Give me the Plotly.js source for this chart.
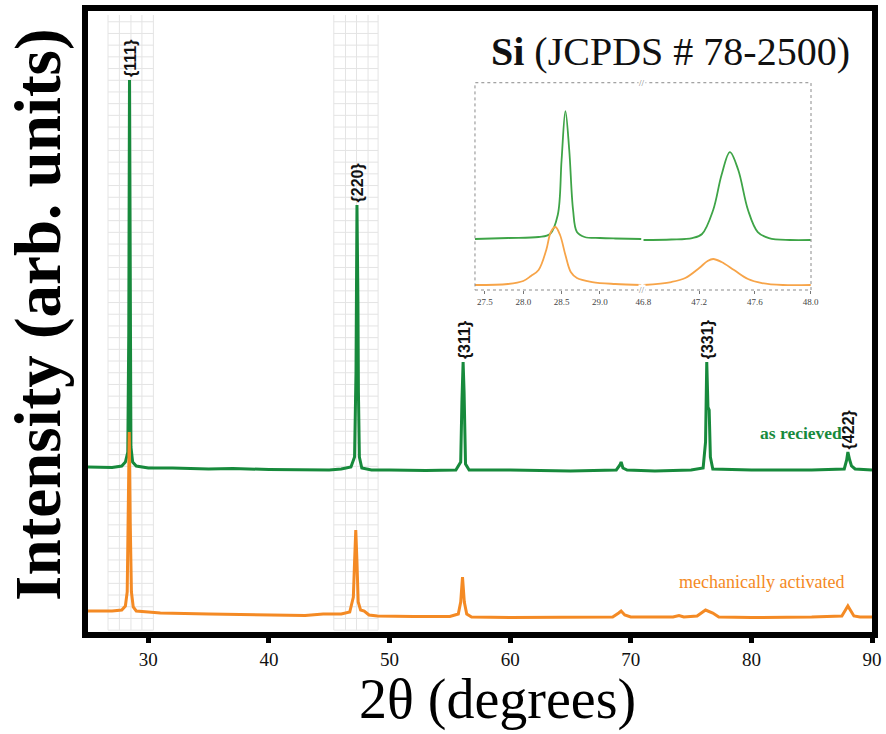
<!DOCTYPE html>
<html><head><meta charset="utf-8">
<script src="https://cdn.plot.ly/plotly-3.0.1.min.js"></script>
<style>html,body{margin:0;padding:0;background:#fff}#chart{width:886px;height:734px}</style>
</head><body><div id="chart"></div>
<script>
// ---------- main pattern: as received (offset, arb. units) ----------
const twoThetaRecv = [25.0,26.0,27.0,27.8,28.1,28.3,28.38,28.44,28.5,28.56,28.7,29.0,30.0,32.0,35.0,37.0,40.0,45.0,46.0,46.8,47.1,47.22,47.3,47.36,47.38,47.42,47.5,47.7,48.5,50.0,53.0,55.5,55.9,56.0,56.1,56.18,56.22,56.3,56.6,60.0,65.0,68.8,69.1,69.2,69.35,69.7,72.0,75.0,76.0,76.2,76.3,76.4,76.5,76.6,76.8,80.0,85.0,87.7,87.9,88.0,88.15,88.3,88.6,90.0];
const intRecv      = [165,165,164.5,166,170,180,300,552,300,185,170,166,164,164,163,163.5,162.5,162,163,165,175,260,427,380,330,240,175,164,162,162,161.5,162,170,230,270,240,215,168,162,162,161,162,167,170,164,162,161,162,164,190,270,225,222,175,163,162,162,163,172,180,172,166,163,162];

// ---------- main pattern: mechanically activated ----------
const twoThetaMech = [25.0,26.0,27.0,27.8,28.1,28.25,28.35,28.42,28.5,28.6,28.75,29.0,30.0,31.0,35.0,40.0,43.0,44.5,46.0,46.7,47.0,47.1,47.2,47.3,47.4,47.6,47.9,48.3,49.0,52.0,55.0,55.7,55.9,56.05,56.2,56.4,56.8,60.0,65.0,68.5,69.0,69.2,69.5,70.0,73.5,74.0,74.4,75.5,76.2,76.8,77.3,80.0,85.0,87.5,87.8,88.0,88.2,88.5,89.0,90.0];
const intMech      = [21,21,21,22,26,40,120,200,110,40,25,21,20,19,18,17,16.5,18,18,20,35,70,102,70,30,22,21,17,16,15.5,15.5,18,30,55,30,18,15,14.5,14.5,15,19,21,17,15,15,16.5,15,16,22,19,15,14.5,15,16,22,26,22,16,15,15];

// ---------- inset (zoomed {111} and {220}) ----------
const insetX111Recv = [27.37,27.8,28.2,28.35,28.45,28.5,28.55,28.6,28.65,28.7,28.8,29.0,29.2,29.54];
const insetY111Recv = [51,52,53,56,75,130,179,140,80,58,53,52,51.5,51];
const insetX111Mech = [27.37,27.8,28.0,28.1,28.2,28.3,28.36,28.42,28.48,28.55,28.62,28.7,28.9,29.2,29.54];
const insetY111Mech = [5,6,9,14,20,40,58,63,55,35,18,12,8,6,5];
const insetX220Recv = [46.8,47.0,47.15,47.22,47.3,47.36,47.42,47.48,47.55,47.62,47.7,47.85,48.0];
const insetY220Recv = [50,50.5,52,56,80,115,138,120,80,58,52,50,50];
const insetX220Mech = [46.8,47.0,47.1,47.2,47.26,47.3,47.36,47.45,47.55,47.65,47.8,48.0];
const insetY220Mech = [5,8,12,22,29,31,28,20,11,7,5,5];

// ---------- labels ----------
const hklLabels = ['{111}','{220}','{311}','{331}','{422}'];
const hklPos    = [28.44, 47.3, 56.1, 76.3, 88.0];
const xTicks    = [30,40,50,60,70,80,90];
const insetTicksA = [27.5,28.0,28.5,29.0];
const insetTicksB = [46.8,47.2,47.6,48.0];

const GREEN='#178a3c', ORANGE='#f48a24', IGREEN='#3ea447', IORANGE='#f7a448';
const SERIF='"Liberation Serif", "Times New Roman", serif';

const traces = [
  {x:twoThetaRecv,y:intRecv,mode:'lines',line:{color:GREEN,width:3},xaxis:'x',yaxis:'y',hoverinfo:'skip'},
  {x:twoThetaMech,y:intMech,mode:'lines',line:{color:ORANGE,width:3},xaxis:'x',yaxis:'y',hoverinfo:'skip'},
  {x:insetX111Recv,y:insetY111Recv,mode:'lines',line:{color:IGREEN,width:1.8,shape:'spline'},xaxis:'x2',yaxis:'y2'},
  {x:insetX111Mech,y:insetY111Mech,mode:'lines',line:{color:IORANGE,width:1.8,shape:'spline'},xaxis:'x2',yaxis:'y2'},
  {x:insetX220Recv,y:insetY220Recv,mode:'lines',line:{color:IGREEN,width:1.8,shape:'spline'},xaxis:'x3',yaxis:'y3'},
  {x:insetX220Mech,y:insetY220Mech,mode:'lines',line:{color:IORANGE,width:1.8,shape:'spline'},xaxis:'x3',yaxis:'y3'}
];

// decorative light grid patches (as in the original figure)
const shapes = [];
const bands = [[26.66,27.6,28.56,29.47,30.42],[45.38,46.35,47.26,48.22,49.05]];
bands.forEach(b=>{
  b.forEach(v=>shapes.push({type:'line',layer:'below',xref:'x',yref:'paper',x0:v,x1:v,y0:0.003,y1:0.9936,line:{color:'#e4e4e4',width:1}}));
  for(let p=0.003;p<=0.994;p+=0.01884){
    shapes.push({type:'line',layer:'below',xref:'x',yref:'paper',x0:b[0],x1:b[b.length-1],y0:p,y1:p,line:{color:'#e4e4e4',width:1}});
  }
});
// inset frame
const IX0=0.4936, IXB=0.7072, IX1=0.9222, IY0=0.5507, IY1=0.8845;
shapes.push({type:'rect',xref:'paper',yref:'paper',x0:IX0,x1:IX1,y0:IY0,y1:IY1,line:{color:'#8a8a8a',width:1,dash:'dot'}});

const annotations = [];
hklLabels.forEach((t,i)=>{
  let best=-1e9;
  twoThetaRecv.forEach((xx,j)=>{ if(Math.abs(xx-hklPos[i])<0.3 && intRecv[j]>best) best=intRecv[j]; });
  annotations.push({x:hklPos[i],y:best,xref:'x',yref:'y',text:'<b>'+t+'</b>',showarrow:false,textangle:-90,
    xanchor:'center',yanchor:'bottom',yshift:1,xshift:1,font:{family:'"Liberation Sans", Arial, sans-serif',size:16,color:'#111'}});
});
annotations.push({xref:'paper',yref:'paper',x:0.975,y:0.934,xanchor:'right',yanchor:'middle',showarrow:false,
  text:'<b>Si</b> (JCPDS # 78-2500)',font:{family:SERIF,size:40,color:'#111'}});
annotations.push({xref:'paper',yref:'paper',x:0.964,y:0.3205,xanchor:'right',yanchor:'middle',showarrow:false,
  text:'<b>as recieved</b>',font:{family:SERIF,size:17.5,color:GREEN}});
annotations.push({xref:'paper',yref:'paper',x:0.967,y:0.0805,xanchor:'right',yanchor:'middle',showarrow:false,
  text:'mechanically activated',font:{family:SERIF,size:18,color:ORANGE}});
annotations.push({xref:'paper',yref:'paper',x:0.5217,y:-0.108,xanchor:'center',yanchor:'middle',showarrow:false,
  text:'2θ (degrees)',font:{family:SERIF,size:56,color:'#000'}});
annotations.push({xref:'paper',yref:'paper',x:-0.063,y:0.51,xanchor:'center',yanchor:'middle',showarrow:false,textangle:-90,
  text:'<b>Intensity (arb. units)</b>',font:{family:SERIF,size:65,color:'#000'}});
// axis-break marks on inset
[IY0,IY1].forEach(yy=>annotations.push({xref:'paper',yref:'paper',x:IXB,y:yy,xanchor:'center',yanchor:'middle',showarrow:false,
  text:'//',bgcolor:'#fff',borderpad:0,font:{family:SERIF,size:9,color:'#777'}}));

const layout = {
  width:886,height:734,
  margin:{l:88,r:14,t:11,b:102},
  paper_bgcolor:'#fff',plot_bgcolor:'rgba(0,0,0,0)',
  showlegend:false,
  xaxis:{range:[25,90],tickvals:xTicks,ticks:'outside',ticklen:5,tickwidth:5,tickcolor:'#000',
    showline:true,linewidth:6,linecolor:'#000',mirror:true,showgrid:false,zeroline:false,
    tickfont:{family:SERIF,size:19,color:'#111'}},
  yaxis:{range:[0,621],showticklabels:false,ticks:'',showline:true,linewidth:6,linecolor:'#000',mirror:true,showgrid:false,zeroline:false},
  xaxis2:{domain:[IX0,IXB-0.0008],range:[27.37,29.547],anchor:'y2',tickvals:insetTicksA,ticktext:insetTicksA.map(v=>v.toFixed(1)),
    ticks:'outside',ticklen:3,tickcolor:'#777',showline:false,showgrid:false,zeroline:false,
    tickfont:{family:SERIF,size:9,color:'#444'}},
  yaxis2:{domain:[IY0,IY1],range:[0,207.3],anchor:'x2',showticklabels:false,ticks:'',showgrid:false,zeroline:false,showline:false},
  xaxis3:{domain:[IXB+0.0008,IX1],range:[46.797,48.002],anchor:'y3',tickvals:insetTicksB,ticktext:insetTicksB.map(v=>v.toFixed(1)),
    ticks:'outside',ticklen:3,tickcolor:'#777',showline:false,showgrid:false,zeroline:false,
    tickfont:{family:SERIF,size:9,color:'#444'}},
  yaxis3:{domain:[IY0,IY1],range:[0,207.3],anchor:'x3',showticklabels:false,ticks:'',showgrid:false,zeroline:false,showline:false},
  shapes:shapes,
  annotations:annotations
};
Plotly.newPlot('chart',traces,layout,{staticPlot:true,displayModeBar:false});
</script></body></html>
